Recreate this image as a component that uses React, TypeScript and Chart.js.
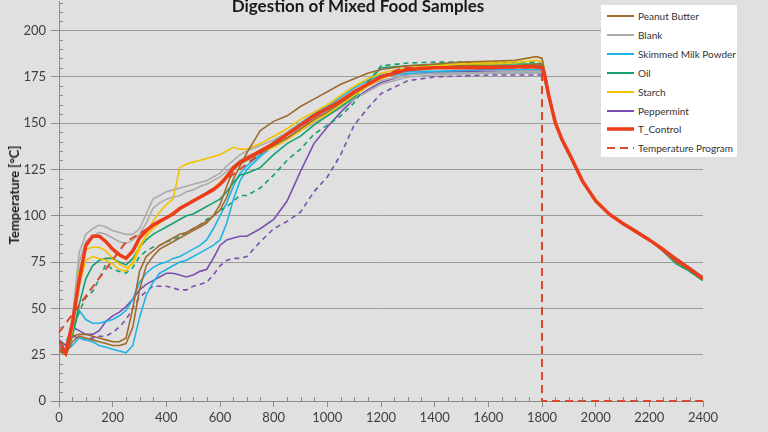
import React, { useEffect, useRef } from "react";
import { Chart, registerables } from "chart.js";

Chart.register(...registerables);

const TIME = [
  0, 25, 50, 75, 100, 125, 150, 175, 200, 225, 250, 275, 300, 325, 350, 375, 400, 425, 450, 475, 500, 525, 550, 575, 600, 625, 650, 675, 700,
  750, 800, 850, 900, 950, 1000, 1050, 1100, 1150, 1200,
  1300, 1400, 1500, 1600, 1700, 1780,
  1800, 1810, 1825, 1850, 1875, 1900,
  1950, 2000, 2050, 2100, 2150, 2200, 2250, 2300, 2350, 2400,
];

const PEANUT_1 = [28,26,35,36,36,35,34,33,32,32, 34,50,70,78,81,84,86,88,90,91, 93,95,97,100,103,110,120,127,134, 146,151,154,159,163,167,171,174,177,179, 181,182,183,183.5,184,186, 185,178,166,151,141,134, 119,108,101,96,92,87,81,75,71,66];
const PEANUT_2 = [27,25,32,35,34,33,32,31,30,30, 31,40,60,73,78,82,84,86,88,90, 92,94,96,100,106,116,125,128,130, 134,138,142,147,152,156,161,166,171,175, 179,180,181,181,181,182, 182,176,165,150,141,134, 119,108,101,96,92,87,82,76,71,66];
const BLANK_1 = [30,27,45,80,90,93,95,94,92,91, 90,90,93,101,109,111,113,114,115,116, 117,118,119,121,123,127,130,133,135, 138,141,145,149,153,157,161,166,170,173, 176,177,177,177.5,178,178, 178,174,164,150,140,133, 119,108,101,96,92,87,82,77,72,67];
const BLANK_2 = [28,26,40,75,86,89,91,90,88,86, 85,87,90,96,104,107,109,110,111,113, 114,116,117,119,121,124,127,130,132, 135,138,142,146,150,154,158,163,167,171, 175,176,176.5,177,177,177, 177,173,164,150,141,134, 119,108,101,96,92,87.5,82,77,72,67];
const SMP_1 = [30,27,30,34,33,32,30,29,28,27, 26,30,45,57,64,69,71,73,75,76, 78,80,82,84,87,96,109,119,125, 132,138,144,149,153,157,162,167,171,175, 177,177,177,177,177,177, 177,173,164,150,141,134, 119,108,101,96,92,87,82,77,72,67];
const SMP_2 = [29,26,36,49,44,42,42,43,44,46, 49,55,64,69,72,74,75,77,78,80, 82,84,87,93,100,107,116,123,127, 133,140,145,150,155,159,164,169,173,176, 178,178,178.5,179,179,179, 179,175,165,150,141,134, 119,108,101,96,92,87,82,77,72,67];
const OIL_1 = [28,25,35,52,66,73,76,77,77,75, 73.5,77,83,87,90,92,94,96,98,100, 101,103,105,107,109,113,118,122,123, 126,133,139,143,149,154,159,164,172,180, 181,181.5,181.5,182,182,182, 181,176,165,150,141,133, 119,108,101,96,91,87,81,74,70,65];
const OIL_2 = [30,32,38,48,56,59,66,74,71,70, 69,72,78,81,83,84,86,87,89,91, 93,95,98,100,103,105,108,111,111, 115,122,130,136,144,149,154,161,172,181, 182.5,183,183,183,183,183, 182,177,165,151,141,134, 119,108,101,96,91,87,82,75,70,65];
const STARCH_1 = [28,25,42,70,82,83,83,81,77,74, 72,74,82,90,97,102,106,109,126,128, 129,130,131,132,133,135,137,136,136, 139,143,147,152,156,160,165,170,174,177, 180,181,182,183,183.5,186, 185,178,166,151,141,134, 119,109,101,96,92,87,82,76,71,66];
const STARCH_2 = [27,25,38,62,76,78,77,76,74,71, 70,75,84,89,93,96,99,102,104,106, 108,110,112,115,118,122,126,129,131, 134,137,141,146,151,155,160,165,170,174, 179,181,182,182,182.5,184, 183,177,165,151,141,134, 119,108,101,96,91,87,82,76,71,66];
const PEPPERMINT_1 = [33,30,40,38,36,36,38,43,46,48, 51,55,60,63,65,67,69,69,68,67, 68,70,71,77,84,87,88,89,89, 93,98,108,124,139,148,156,163,168,172, 176.5,177.5,178,178,178,178, 178,174,164,150,141,134, 119,108,101,96,92,87,82,77,72,67];
const PEPPERMINT_2 = [30,30,35,34,33,34,35,35,37,40, 44,50,56,59,62,62,62,61,60,60, 62,63,64,68,73,76,77,77,78, 86,93,97,102,113,121,133,149,158,166, 173,175,175.5,176,176,176, 176,173,164,150,141,134, 119,108,101,96,92,87,82,77,72,67];
const T_CONTROL = [32,26,42,65,84,89,89,86,82,79, 77,81,88,92,95,97,99,101,104,106, 108,110,112,114,117,121,126,129,131, 135,139,144,149,154,158,162,167,171,175, 179,180,180,180,180.5,180.5, 180,176,165,150,141,134, 119,108,101,96,91.5,87,82,76.5,71.5,66];

const PROG_TIME = [0, 250, 400, 600, 800, 1000, 1200, 1280, 1800, 1800, 2400];
const PROG_TEMP = [37, 86, 99, 117, 139, 158, 175, 180, 180, 0, 0];

const X_TICKS_STEP = 200;
const Y_TICKS_STEP = 25;

const C_BROWN = "#9E6B2E";
const C_GRAY = "#ABABAB";
const C_CYAN = "#1EB4E4";
const C_GREEN = "#16A070";
const C_YELLOW = "#F2C200";
const C_PURPLE = "#7A4FB0";
const C_RED = "#EE3B1A";
const C_PROG = "#D9482C";

const LEGEND = [
  { label: "Peanut Butter", color: C_BROWN, width: 2, dash: false },
  { label: "Blank", color: C_GRAY, width: 2, dash: false },
  { label: "Skimmed Milk Powder", color: C_CYAN, width: 2, dash: false },
  { label: "Oil", color: C_GREEN, width: 2, dash: false },
  { label: "Starch", color: C_YELLOW, width: 2, dash: false },
  { label: "Peppermint", color: C_PURPLE, width: 2, dash: false },
  { label: "T_Control", color: C_RED, width: 3.5, dash: false },
  { label: "Temperature Program", color: C_PROG, width: 2, dash: true },
];

function series(label: string, vals: number[], color: string, order: number, extra: any = {}) {
  return {
    label,
    data: TIME.map((t, i) => ({ x: t, y: vals[i] })),
    borderColor: color,
    backgroundColor: color,
    borderWidth: 1.6,
    pointRadius: 0,
    fill: false,
    tension: 0,
    order,
    ...extra,
  };
}

const minorTicks = {
  id: "minorTicks",
  afterDraw(chart: any) {
    const { ctx, scales } = chart;
    const x = scales.x;
    const y = scales.y;
    ctx.save();
    ctx.strokeStyle = "#8a8a8a";
    ctx.lineWidth = 1;
    ctx.beginPath();
    for (let v = 5; v < y.max; v += 5) {
      if (v % 25 === 0) continue;
      const py = Math.round(y.getPixelForValue(v)) + 0.5;
      ctx.moveTo(x.left, py);
      ctx.lineTo(x.left + 4, py);
    }
    for (let v = 50; v < x.max; v += 50) {
      if (v % 200 === 0) continue;
      const px = Math.round(x.getPixelForValue(v)) + 0.5;
      ctx.moveTo(px, y.bottom);
      ctx.lineTo(px, y.bottom - 4);
    }
    ctx.stroke();
    ctx.restore();
  },
};

export default function App() {
  const ref = useRef<HTMLCanvasElement>(null);

  useEffect(() => {
    const datasets: any[] = [
      series("T_Control", T_CONTROL, C_RED, 0, { borderWidth: 3.5 }),
      {
        label: "Temperature Program",
        data: PROG_TIME.map((t, i) => ({ x: t, y: PROG_TEMP[i] })),
        borderColor: C_PROG,
        borderWidth: 2,
        borderDash: [8, 5],
        pointRadius: 0,
        fill: false,
        tension: 0,
        order: 1,
        clip: false,
      },
      series("Peanut Butter", PEANUT_1, C_BROWN, 2),
      series("Peanut Butter 2", PEANUT_2, C_BROWN, 3),
      series("Starch", STARCH_1, C_YELLOW, 4),
      series("Starch 2", STARCH_2, C_YELLOW, 5),
      series("Oil", OIL_1, C_GREEN, 6),
      series("Oil 2", OIL_2, C_GREEN, 7, { borderDash: [5, 4] }),
      series("Blank", BLANK_1, C_GRAY, 8),
      series("Blank 2", BLANK_2, C_GRAY, 9),
      series("Skimmed Milk Powder", SMP_1, C_CYAN, 10),
      series("Skimmed Milk Powder 2", SMP_2, C_CYAN, 11),
      series("Peppermint", PEPPERMINT_1, C_PURPLE, 12),
      series("Peppermint 2", PEPPERMINT_2, C_PURPLE, 13, { borderDash: [5, 4] }),
    ];

    const chart = new Chart(ref.current as HTMLCanvasElement, {
      type: "line",
      data: { datasets },
      plugins: [minorTicks],
      options: {
        animation: false,
        responsive: false,
        maintainAspectRatio: false,
        layout: { padding: { top: 1, right: 65, left: 0, bottom: 0 } },
        plugins: { legend: { display: false }, tooltip: { enabled: false }, title: { display: false } },
        scales: {
          x: {
            type: "linear",
            min: 0,
            max: 2400,
            afterFit: (s: any) => { s.height = 31; },
            ticks: {
              stepSize: X_TICKS_STEP,
              autoSkip: false,
              maxRotation: 0,
              padding: 3,
              color: "#404040",
              font: { family: "Lato", size: 13 },
              callback: (v: any) => String(v),
            },
            grid: { drawOnChartArea: false, drawTicks: true, tickLength: 6, color: "#8a8a8a" },
            border: { color: "#8a8a8a" },
          },
          y: {
            type: "linear",
            min: 0,
            max: 216,
            afterFit: (s: any) => { s.width = 59; s.paddingTop = 0; s.paddingBottom = 0; },
            ticks: {
              stepSize: Y_TICKS_STEP,
              autoSkip: false,
              padding: 5,
              color: "#404040",
              font: { family: "Lato", size: 13 },
              callback: (v: any) => (Number(v) % 25 === 0 ? String(v) : ""),
            },
            grid: {
              tickLength: 8,
              color: (c: any) => (c.tick && c.tick.value % 25 === 0 && c.tick.value > 0 ? "#9c9c9c" : "rgba(0,0,0,0)"),
              tickColor: (c: any) => (c.tick && c.tick.value % 25 === 0 ? "#8a8a8a" : "rgba(0,0,0,0)"),
            },
            border: { color: "#8a8a8a" },
          },
        },
      } as any,
    });
    return () => chart.destroy();
  }, []);

  return (
    <div
      style={{
        position: "fixed",
        left: 0,
        top: 0,
        width: 768,
        height: 432,
        background: "#e0e0e0",
        overflow: "hidden",
        fontFamily: "Lato, 'Open Sans', sans-serif",
      }}
    >
      <canvas ref={ref} width={768} height={432} style={{ position: "absolute", left: 0, top: 0, width: 768, height: 432 }} />
      <div
        style={{
          position: "absolute",
          left: 158,
          width: 400,
          top: -3,
          textAlign: "center",
          fontWeight: 700,
          fontSize: 17,
          lineHeight: "17px",
          color: "#1a1a1a",
          whiteSpace: "nowrap",
        }}
      >
        Digestion of Mixed Food Samples
      </div>
      <div
        style={{
          position: "absolute",
          left: 14,
          top: 195,
          transform: "translate(-50%, -50%) rotate(-90deg)",
          fontWeight: 700,
          fontSize: 13,
          color: "#1a1a1a",
          whiteSpace: "nowrap",
        }}
      >
        Temperature [°C]
      </div>
      <div
        style={{
          position: "absolute",
          left: 601,
          top: 5,
          width: 136,
          height: 152,
          background: "#ffffff",
        }}
      >
        {LEGEND.map((e, i) => (
          <div
            key={e.label}
            style={{ position: "absolute", left: 6, top: 11 + i * 18.9 - 7, height: 14, display: "flex", alignItems: "center" }}
          >
            <svg width={27} height={6} style={{ display: "block" }}>
              <line
                x1={0}
                y1={3}
                x2={27}
                y2={3}
                stroke={e.color}
                strokeWidth={e.width}
                strokeDasharray={e.dash ? "8 5" : undefined}
              />
            </svg>
            <span style={{ marginLeft: 4, fontSize: 10, color: "#333", whiteSpace: "nowrap" }}>{e.label}</span>
          </div>
        ))}
      </div>
    </div>
  );
}
